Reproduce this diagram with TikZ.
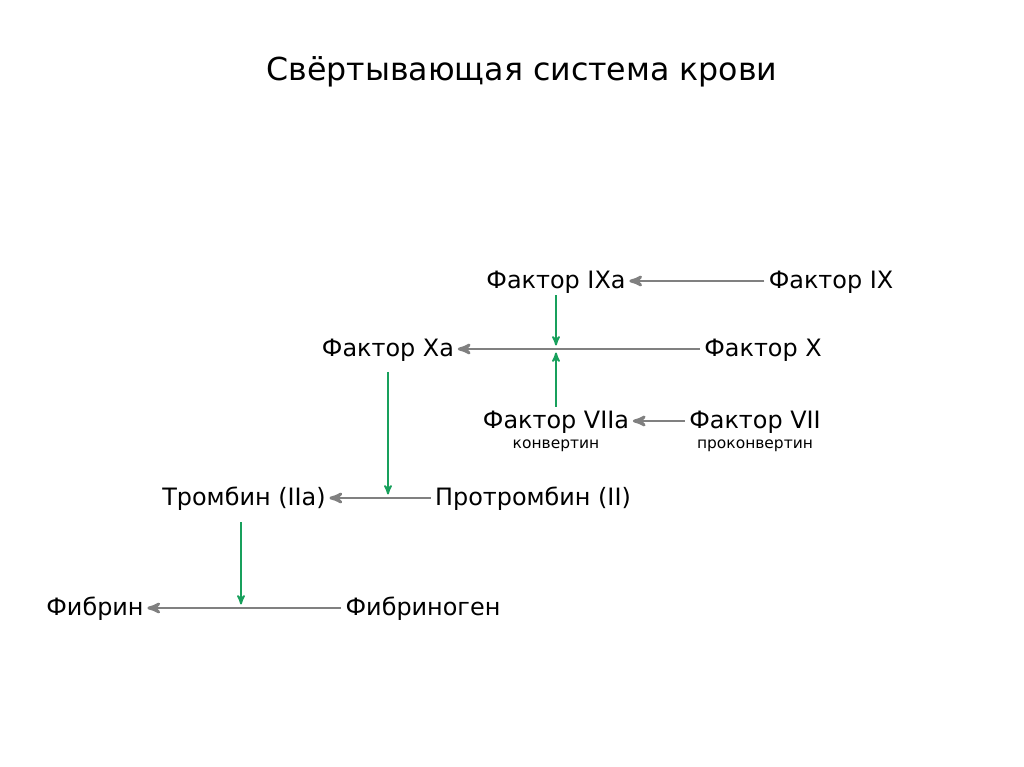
\documentclass[tikz,border=0pt]{standalone}
\usepackage{fontspec}
\setmainfont{DejaVu Sans}
\usetikzlibrary{arrows}
\usetikzlibrary{positioning}
\definecolor{actgreen}{RGB}{24,160,92}
\tikzset{
  factor/.style={inner sep=1pt, text height=14pt, text depth=4pt,
    font=\fontsize{17}{20}\selectfont},
  sub/.style={inner sep=0, font=\fontsize{11}{13}\selectfont},
  conv/.style={->,>=stealth',draw=black!50,color=black!50,line width=2pt,
    shorten >=1.5pt, shorten <=2pt},
  act/.style={->,>=stealth',draw=actgreen,color=actgreen,line width=1.3pt,
    shorten >=2.5pt}
}
\begin{document}
\begin{tikzpicture}[x=0.025cm,y=-0.025cm]
  \useasboundingbox (0,0) rectangle (1024,767);
  \fill[white] (0,0) rectangle (1024,767);
  \node (title) at (522,72) {\fontsize{22.5}{27}\selectfont Свёртывающая система крови};
  % factors
  \node[factor] (IXa) at (556,281) {Фактор IXa};
  \node[factor] (IX) at (831,281) {Фактор IX};
  \node[factor] (Xa) at (388,349) {Фактор Xa};
  \node[factor] (X) at (763,349) {Фактор X};
  \node[factor] (VIIa) at (556,421) {Фактор VIIa};
  \node[factor] (VII) at (755,421) {Фактор VII};
  \node[sub, below=3pt of VIIa] (conv) {конвертин};
  \node[sub, below=3pt of VII] (proconv) {проконвертин};
  \node[factor] (IIa) at (244,498) {Тромбин (IIa)};
  \node[factor] (II) at (533,498) {Протромбин (II)};
  \node[factor] (Ia) at (95,608) {Фибрин};
  \node[factor] (I) at (423,608) {Фибриноген};
  % points on the conversion lines
  \coordinate (mX) at (556,349);
  \coordinate (mII) at (388,498);
  \coordinate (mI) at (241,608);
  % conversions
  \draw[conv] (IX) -- (IXa);
  \draw[conv] (X) -- (Xa);
  \draw[conv] (VII) -- (VIIa);
  \draw[conv] (II) -- (IIa);
  \draw[conv] (I) -- (Ia);
  % activations
  \draw[act] (IXa.south) -- (mX);
  \draw[act] (VIIa.north) -- (mX);
  \draw[act, shorten <=6pt] (mII |- Xa.south) -- (mII);
  \draw[act, shorten <=7pt] (mI |- IIa.south) -- (mI);
\end{tikzpicture}
\end{document}
